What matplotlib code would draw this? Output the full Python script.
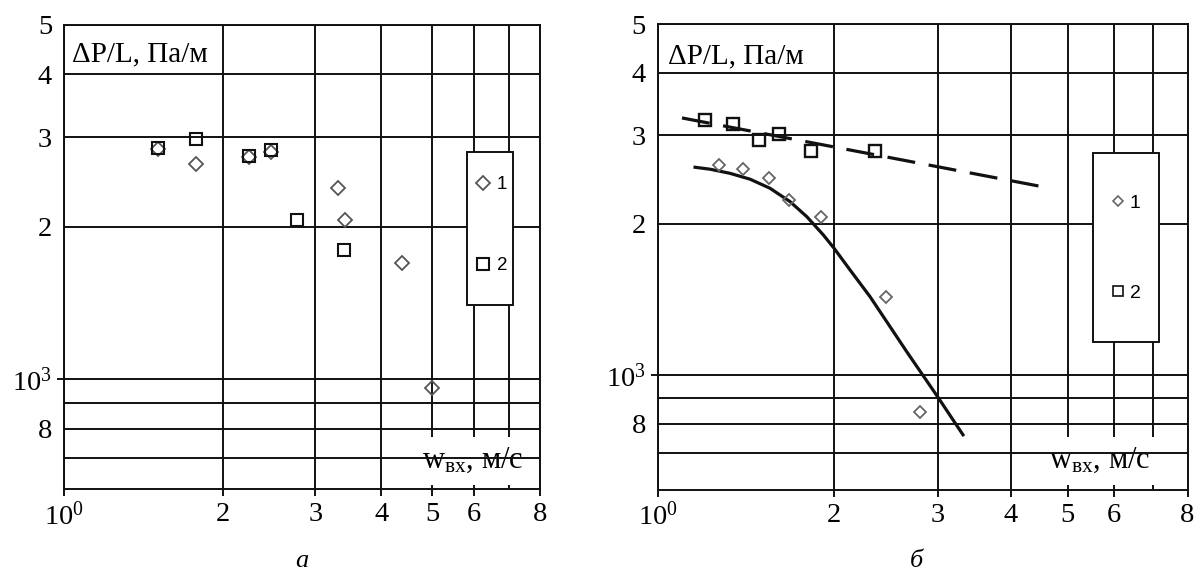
import matplotlib
matplotlib.use('Agg')
import matplotlib.pyplot as plt
from matplotlib.ticker import FixedLocator, FixedFormatter, NullFormatter
from matplotlib.patches import Rectangle

plt.rcParams['font.family'] = ['Liberation Serif', 'DejaVu Serif']
plt.rcParams['mathtext.fontset'] = 'custom'
plt.rcParams['mathtext.rm'] = 'Liberation Serif'
plt.rcParams['mathtext.it'] = 'Liberation Serif:italic'

# ---------------- data ----------------
# panel "а"
a_x1 = [1.51, 1.78, 2.24, 2.47, 3.31, 3.42, 4.38, 5.00]
a_y1 = [2845, 2660, 2740, 2805, 2390, 2060, 1695, 962]
a_x2 = [1.51, 1.78, 2.24, 2.47, 2.77, 3.40]
a_y2 = [2860, 2985, 2757, 2832, 2060, 1796]

# panel "б"
b_x1 = [1.27, 1.40, 1.55, 1.675, 1.895, 2.45, 2.80]
b_y1 = [2615, 2570, 2470, 2235, 2060, 1428, 845]
b_x2 = [1.204, 1.345, 1.489, 1.610, 1.823, 2.351]
b_y2 = [3224, 3164, 2940, 3018, 2798, 2798]

# fitted curves of panel "б"
fit1_x = [1.158, 1.228, 1.328, 1.437, 1.554, 1.681, 1.795, 1.916, 1.998,
          2.127, 2.301, 2.489, 2.661, 3.000, 3.314]
fit1_y = [2592, 2569, 2521, 2454, 2354, 2214, 2067, 1900, 1788,
          1619, 1432, 1248, 1110, 905, 760]
fit2_x = [1.10, 4.55]
fit2_y = [3250, 2368]

# ticks
x_major = [1, 2, 3, 4, 5, 6, 8]
x_labels = [r'$\mathregular{10^{0}}$', '2', '3', '4', '5', '6', '8']
x_minor = [7]
y_major = [1000]
y_major_labels = [r'$\mathregular{10^{3}}$']
y_minor = [700, 800, 900, 2000, 3000, 4000, 5000]
y_minor_labels = ['', '8', '', '2', '3', '4', '5']

series_labels = ['1', '2']
ylab = 'ΔP/L, Па/м'
xlab = r'w$_{\mathregular{вх}}$, м/с'
captions = ['а', 'б']

LC = '#111111'

fig = plt.figure(figsize=(11.96, 5.72), dpi=100)
W, H = 1196.0, 572.0
axA = fig.add_axes([64 / W, 1 - 489.3 / H, 476 / W, 464.3 / H])
axB = fig.add_axes([657.7 / W, 1 - 490 / H, 529.8 / W, 466 / H])


def style(ax, ymin, ylab_xy, xlab_xy):
    ax.set_xscale('log')
    ax.set_yscale('log')
    ax.set_xlim(1, 8)
    ax.set_ylim(ymin, 5000)
    ax.xaxis.set_major_locator(FixedLocator(x_major))
    ax.xaxis.set_major_formatter(FixedFormatter(x_labels))
    ax.xaxis.set_minor_locator(FixedLocator(x_minor))
    ax.xaxis.set_minor_formatter(NullFormatter())
    ax.yaxis.set_major_locator(FixedLocator(y_major))
    ax.yaxis.set_major_formatter(FixedFormatter(y_major_labels))
    ax.yaxis.set_minor_locator(FixedLocator(y_minor))
    ax.yaxis.set_minor_formatter(FixedFormatter(y_minor_labels))
    ax.tick_params(axis='x', which='major', direction='out', length=5,
                   width=1.4, color=LC, pad=4, labelsize=20.5)
    ax.tick_params(axis='x', which='minor', length=0)
    ax.tick_params(axis='y', which='major', direction='out', length=5,
                   width=1.4, color=LC, pad=3.5, labelsize=20.5)
    ax.tick_params(axis='y', which='minor', length=0, pad=8.5, labelsize=20.5)
    ax.grid(True, which='both', color=LC, lw=1.4)
    for s in ax.spines.values():
        s.set_linewidth(1.4)
        s.set_color(LC)
    ax.set_ylabel(ylab, rotation=0, ha='left', va='baseline', fontsize=21)
    ax.yaxis.set_label_coords(*ylab_xy)
    ax.set_xlabel(xlab, ha='left', va='baseline', fontsize=22,
                  bbox=dict(boxstyle='square,pad=0.3', fc='white', ec='none'))
    ax.xaxis.set_label_coords(*xlab_xy)


style(axA, 607, (0.016, 0.921), (0.7515, 0.0452))
style(axB, 590, (0.020, 0.9157), (0.7386, 0.0466))

# ---------- panel а ----------
hA1, = axA.plot(a_x1, a_y1, linestyle='none', marker='D', ms=7.3, mfc='none',
                mec='#555555', mew=1.3, label=series_labels[0], zorder=3)
hA2, = axA.plot(a_x2, a_y2, linestyle='none', marker='s', ms=8, mfc='none',
                mec=LC, mew=1.5, label=series_labels[1], zorder=3)
axA.add_patch(Rectangle((0.8473, 0.397), 0.096, 0.330, transform=axA.transAxes,
                        fc='white', ec=LC, lw=1.4, zorder=4))
legA = axA.legend(handles=[hA1, hA2], loc='center left',
                  bbox_to_anchor=(0.860, 0.569), frameon=False, borderpad=0,
                  borderaxespad=0, labelspacing=3.40, handlelength=1.0,
                  handletextpad=0.25, markerscale=1.0,
                  prop={'family': 'Liberation Sans', 'size': 13.5})
legA.set_zorder(5)

# ---------- panel б ----------
axB.plot(fit1_x, fit1_y, '-', color=LC, lw=2.3, zorder=2)
axB.plot(fit2_x, fit2_y, color=LC, lw=2.3, linestyle=(0, (8.8, 4.3)), zorder=2)
hB1, = axB.plot(b_x1, b_y1, linestyle='none', marker='D', ms=6.2, mfc='none',
                mec='#666666', mew=1.3, label=series_labels[0], zorder=3)
hB2, = axB.plot(b_x2, b_y2, linestyle='none', marker='s', ms=9, mfc='none',
                mec=LC, mew=1.7, label=series_labels[1], zorder=3)
axB.add_patch(Rectangle((0.8211, 0.3182), 0.1257, 0.4056, transform=axB.transAxes,
                        fc='white', ec=LC, lw=1.4, zorder=4))
legB = axB.legend(handles=[hB1, hB2], loc='center left',
                  bbox_to_anchor=(0.8547, 0.5196), frameon=False, borderpad=0,
                  borderaxespad=0, labelspacing=3.73, handlelength=0.8,
                  handletextpad=0.2, markerscale=0.75,
                  prop={'family': 'Liberation Sans', 'size': 14})
legB.set_zorder(5)
for h in legB.legend_handles:
    h.set_markeredgewidth(1.2)

# captions
fig.text(302 / W, 0.008, captions[0], style='italic', fontsize=19,
         ha='center', va='baseline')
fig.text(916 / W, 0.008, captions[1], style='italic', fontsize=19,
         ha='center', va='baseline')

fig.savefig('out.png', dpi=100)
